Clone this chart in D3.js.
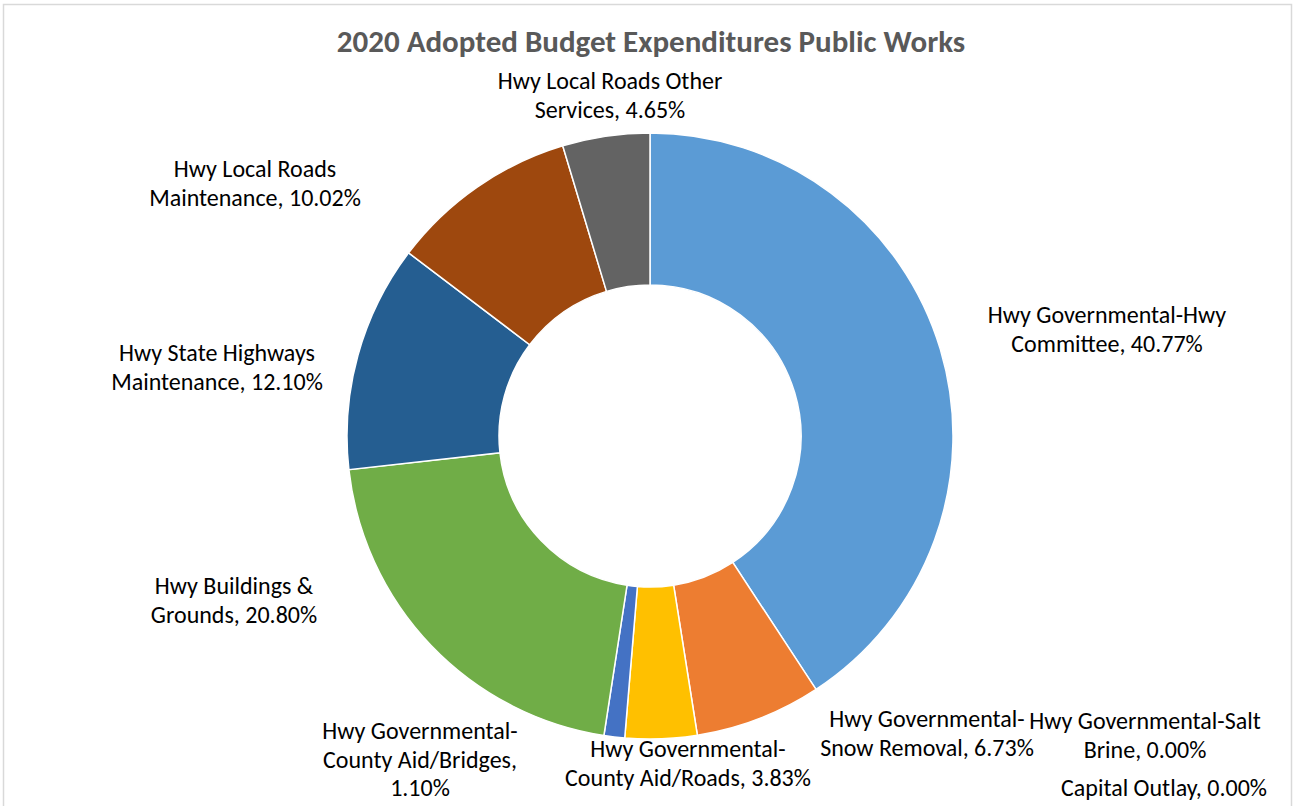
<!DOCTYPE html>
<html>
<head>
<meta charset="utf-8">
<script src="https://cdn.jsdelivr.net/npm/d3@7"></script>
<style>
  html, body { margin: 0; padding: 0; background: #fff; }
  svg { display: block; }
</style>
</head>
<body>
<svg id="chart" width="1295" height="806"></svg>
<script>
// Public Works expenditure shares (percent of 2020 adopted budget)
const categories = [
  "Hwy Governmental-Hwy Committee",
  "Hwy Governmental-Snow Removal",
  "Hwy Governmental-Salt Brine",
  "Capital Outlay",
  "Hwy Governmental-County Aid/Roads",
  "Hwy Governmental-County Aid/Bridges",
  "Hwy Buildings & Grounds",
  "Hwy State Highways Maintenance",
  "Hwy Local Roads Maintenance",
  "Hwy Local Roads Other Services"
];
const shares = [40.77, 6.73, 0.00, 0.00, 3.83, 1.10, 20.80, 12.10, 10.02, 4.65];
const sliceColors = ["#5B9BD5", "#ED7D31", "#A5A5A5", "#997300", "#FFC000",
                     "#4472C4", "#70AD47", "#255E91", "#9E480E", "#636363"];

// Wrapped label lines (the value is appended to the last text line)
const labelLines = [
  ["Hwy Governmental-Hwy", "Committee, "],
  ["Hwy Governmental-", "Snow Removal, "],
  ["Hwy Governmental-Salt", "Brine, "],
  ["Capital Outlay, "],
  ["Hwy Governmental-", "County Aid/Roads, "],
  ["Hwy Governmental-", "County Aid/Bridges,", ""],
  ["Hwy Buildings &", "Grounds, "],
  ["Hwy State Highways", "Maintenance, "],
  ["Hwy Local Roads", "Maintenance, "],
  ["Hwy Local Roads Other", "Services, "]
];

// Label block anchors (centre x, first-line y)
const labelAnchors = [
  [1107, 317], [927, 721], [1145, 723], [1164, 790], [688, 751],
  [420, 733], [234, 588], [217, 355], [255, 171], [610, 83]
];

const W = 1295, H = 806;
const cx = 650, cy = 436, rOuter = 303, rInner = 151;
const fontFamily = "Carlito, Calibri, Lato, 'Open Sans', sans-serif";

const svg = d3.select("#chart");

// Chart frame
svg.append("rect")
  .attr("x", 3.5).attr("y", 4.5)
  .attr("width", 1288).attr("height", 820)
  .attr("fill", "#fff")
  .attr("stroke", "#d9d9d9").attr("stroke-width", 1.5);

// Title
svg.append("text")
  .attr("x", 651).attr("y", 52)
  .attr("text-anchor", "middle")
  .attr("font-family", fontFamily)
  .attr("font-weight", "bold")
  .attr("font-size", 31)
  .attr("fill", "#595959")
  .text("2020 Adopted Budget Expenditures Public Works");

const data = categories.map((c, i) => ({ name: c, value: shares[i], color: sliceColors[i], i }));

const pie = d3.pie().value(d => d.value).sort(null);
const arc = d3.arc().innerRadius(rInner).outerRadius(rOuter);

const g = svg.append("g").attr("transform", `translate(${cx},${cy})`);
g.selectAll("path")
  .data(pie(data).filter(d => d.data.value > 0))
  .join("path")
  .attr("d", arc)
  .attr("fill", d => d.data.color)
  .attr("stroke", "#fff")
  .attr("stroke-width", 1.5);

// Data labels
const fmt = d3.format(".2f");
const lineH = 28.5;
const labels = svg.append("g")
  .attr("font-family", fontFamily)
  .attr("font-size", 24)
  .attr("fill", "#000")
  .attr("text-anchor", "middle");

data.forEach((d, i) => {
  const lines = labelLines[i].slice();
  lines[lines.length - 1] = lines[lines.length - 1] + fmt(d.value) + "%";
  const t = labels.append("text")
    .attr("x", labelAnchors[i][0])
    .attr("y", labelAnchors[i][1])
    .attr("dominant-baseline", "middle");
  lines.forEach((ln, k) => {
    t.append("tspan")
      .attr("x", labelAnchors[i][0])
      .attr("y", labelAnchors[i][1] + k * lineH)
      .text(ln);
  });
});
</script>
</body>
</html>
